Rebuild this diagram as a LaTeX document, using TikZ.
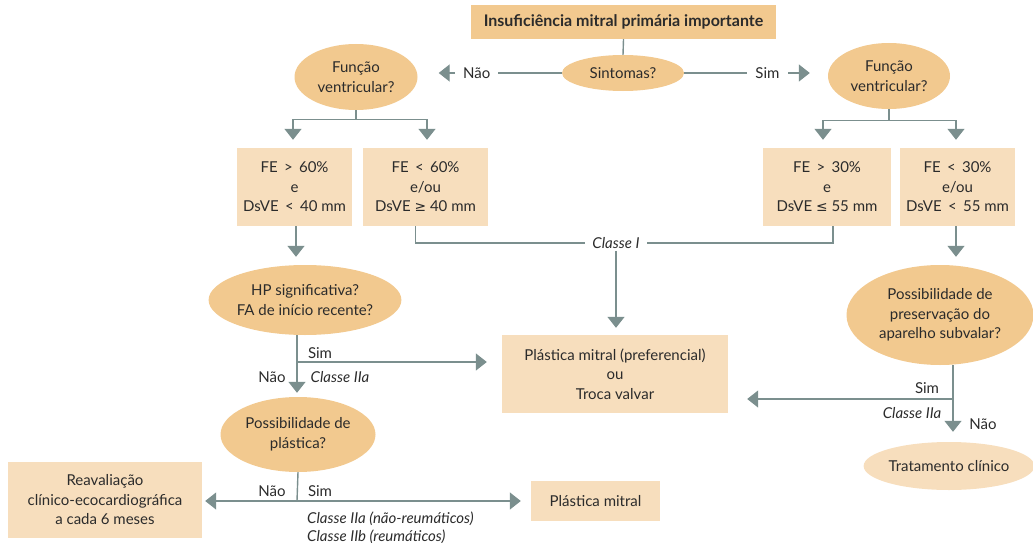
\documentclass[tikz,border=0pt]{standalone}
\usepackage{fontspec}
\setmainfont{Lato}
\newfontfamily\symf[Scale=0.92]{DejaVu Sans}
\usetikzlibrary{shapes.geometric,arrows.meta}
\definecolor{dark}{HTML}{F2C98F}
\definecolor{light}{HTML}{F7DEBD}
\definecolor{ln}{HTML}{7B8F8E}
\definecolor{txt}{HTML}{2B2B2B}
\newcommand{\gte}{{\symf ≥}}
\newcommand{\lte}{{\symf ≤}}
\begin{document}
\begin{tikzpicture}[x=1pt,y=-1pt,
  every node/.style={font=\fontsize{15}{19.5}\selectfont, text=txt, align=center, inner sep=0pt},
  dbox/.style={rectangle, fill=dark},
  lbox/.style={rectangle, fill=light},
  dell/.style={ellipse, fill=dark},
  lell/.style={ellipse, fill=light},
  conn/.style={draw=ln, line width=1.4pt},
  arr/.style={conn, -{Triangle[width=17pt,length=11pt]}},
  lbl/.style={fill=white, inner xsep=8pt, inner ysep=2pt},
  ital/.style={font=\fontsize{15}{18}\selectfont\itshape}
]
\useasboundingbox (0,0) rectangle (1033,543);

% nodes
\node[dbox, minimum width=305pt, minimum height=34pt, font=\fontsize{16}{18}\selectfont\bfseries] (top) at (623.5,22) {Insuficiência mitral primária importante};
\node[dell, minimum width=122pt, minimum height=36pt] (sint) at (623,73) {Sintomas?};
\node[dell, minimum width=123pt, minimum height=66pt] (fvL) at (356,77) {Função\\ventricular?};
\node[dell, minimum width=122pt, minimum height=66pt] (fvR) at (889,76) {Função\\ventricular?};
\node[lbox, minimum width=115pt, minimum height=78pt] (b1) at (294.5,187) {FE \,>\, 60\%\\e\\DsVE \,<\, 40 mm};
\node[lbox, minimum width=125pt, minimum height=78pt] (b2) at (425.5,187) {FE \,<\, 60\%\\e/ou\\DsVE \gte\ 40 mm};
\node[lbox, minimum width=128pt, minimum height=78pt] (b3) at (827,187) {FE \,>\, 30\%\\e\\DsVE \lte\ 55 mm};
\node[lbox, minimum width=115pt, minimum height=78pt] (b4) at (957.5,187) {FE \,<\, 30\%\\e/ou\\DsVE \,<\, 55 mm};
\node[dell, minimum width=190pt, minimum height=70pt] (hp) at (305,300) {HP significativa?\\FA de início recente?};
\node[lbox, minimum width=226pt, minimum height=78pt] (mid) at (615,374) {Plástica mitral (preferencial)\\ou\\Troca valvar};
\node[dell, minimum width=187pt, minimum height=100pt] (pres) at (940,315) {Possibilidade de\\preservação do\\aparelho subvalar?};
\node[lell, minimum width=152pt, minimum height=48pt] (trat) at (949,466) {Tratamento clínico};
\node[dell, minimum width=155pt, minimum height=75pt] (pp) at (298,434.5) {Possibilidade de\\plástica?};
\node[lbox, minimum width=194pt, minimum height=76pt] (reav) at (105,500) {Reavaliação\\clínico-ecocardiográfica\\a cada 6 meses};
\node[lbox, minimum width=129pt, minimum height=40pt] (pm) at (595.5,501) {Plástica mitral};

% top connectors
\draw[conn] (top.south) -- (sint.north);
\draw[arr, shorten >=21pt] (sint.west) -- node[lbl, pos=0.59]{Não} (sint.west -| fvL.east);
\draw[arr, shorten >=18pt] (sint.east) -- node[lbl, pos=0.58]{Sim} (sint.east -| fvR.west);

% branches under ventricular function
\draw[conn] (fvL.south) -- ++(0,9) coordinate (jL);
\draw[arr, shorten >=8pt] (jL) -| ([xshift=-1.5pt]b1.north);
\draw[arr, shorten >=8pt] (jL) -| ([xshift=1.5pt]b2.north);
\draw[conn] (fvR.south) -- ++(0,11) coordinate (jR);
\draw[arr, shorten >=8pt] (jR) -| ([xshift=-4pt]b3.north);
\draw[arr, shorten >=8pt] (jR) -| ([xshift=-1.5pt]b4.north);

% Classe I
\node[ital, lbl, inner xsep=7pt] (cl1) at (616,243) {Classe I};
\draw[conn] ([xshift=-10pt]b2.south) |- (cl1.west);
\draw[conn] ([xshift=6pt]b3.south) |- (cl1.east);
\draw[arr, shorten >=7pt] (cl1.south) -- (cl1.south |- mid.north);

% left column
\draw[arr, shorten >=8pt] ([xshift=1.5pt]b1.south) -- ([xshift=1.5pt]b1.south |- hp.north);
\path ([xshift=-8pt]hp.south) coordinate (hpb);
\coordinate (hpj) at (297,362);
\draw[arr, shorten >=4pt] (hpb) -- (hpb |- pp.north);
\draw[arr, shorten >=15pt] (hpj) -- (hpj -| mid.west);
\node at (320,353) {Sim};
\node[ital] at (340,377) {Classe IIa};
\node at (272,377) {Não};

\coordinate (ppj) at (297,501);
\draw[conn] (pp.south) -- (ppj);
\draw[arr, shorten >=3pt] (ppj) -- (ppj -| reav.east);
\draw[arr, shorten >=10pt] (ppj) -- (ppj -| pm.west);
\node at (272,491) {Não};
\node at (320,491) {Sim};
\node[ital, anchor=west] at (307,519) {Classe IIa (não-reumáticos)};
\node[ital, anchor=west] at (307,537) {Classe IIb (reumáticos)};

% right column
\draw[arr, shorten >=8pt] ([xshift=-1.5pt]b4.south) -- ([xshift=-1.5pt]b4.south |- pres.north);
\path ([xshift=13pt]pres.south) coordinate (prb);
\coordinate (prj) at (953,399);
\draw[arr, shorten >=10pt] (prb) -- (prb |- trat.north);
\draw[arr, shorten >=19pt] (prj) -- (prj -| mid.east);
\node at (927,388) {Sim};
\node[ital] at (912,413) {Classe IIa};
\node at (983,424) {Não};
\end{tikzpicture}
\end{document}
